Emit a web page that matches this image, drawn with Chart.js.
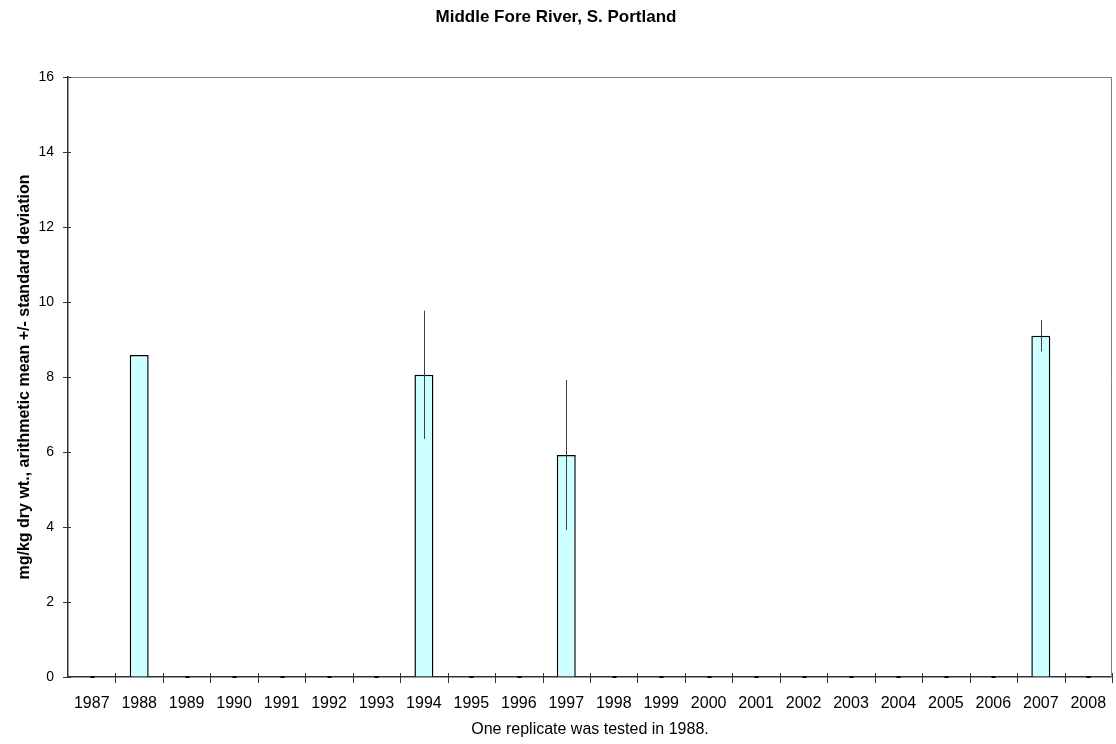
<!DOCTYPE html>
<html>
<head>
<meta charset="utf-8">
<script src="https://cdn.jsdelivr.net/npm/chart.js@4/dist/chart.umd.min.js"></script>
<style>
  html, body { margin: 0; padding: 0; background: #fff; }
  #wrap { width: 1116px; height: 744px; }
</style>
</head>
<body>
<div id="wrap"><canvas id="reportChart" width="1116" height="744"></canvas></div>
<script>
const years = ['1987', '1988', '1989', '1990', '1991', '1992', '1993', '1994', '1995', '1996', '1997',
  '1998', '1999', '2000', '2001', '2002', '2003', '2004', '2005', '2006', '2007', '2008'];
const means = [0, 8.59, 0, 0, 0, 0, 0, 8.06, 0, 0, 5.92, 0, 0, 0, 0, 0, 0, 0, 0, 0, 9.1, 0];
const stdDevs = [0, 0, 0, 0, 0, 0, 0, 1.71, 0, 0, 2.0, 0, 0, 0, 0, 0, 0, 0, 0, 0, 0.42, 0];
const yTicks = [0, 2, 4, 6, 8, 10, 12, 14, 16];

const fontFamily = '"Liberation Sans", Arial, sans-serif';

// error bars, zero markers, cross tick marks and the grey frame on top/right
const extras = {
  id: 'extras',
  afterDatasetsDraw(chart) {
    const ctx = chart.ctx;
    const x = chart.scales.x;
    const y = chart.scales.y;
    const area = chart.chartArea;
    ctx.save();
    ctx.strokeStyle = '#808080';
    ctx.lineWidth = 1;
    ctx.beginPath();
    ctx.moveTo(area.left, area.top + 0.5);
    ctx.lineTo(area.right - 0.5, area.top + 0.5);
    ctx.lineTo(area.right - 0.5, area.bottom);
    ctx.stroke();

    // tick marks crossing the axes
    ctx.strokeStyle = '#333';
    ctx.lineWidth = 1;
    ctx.beginPath();
    const step = x.width / years.length;
    for (let i = 1; i <= years.length; i++) {
      const tx = Math.round(x.getPixelForValue(i) - step / 2) + 0.5;
      ctx.moveTo(tx, area.bottom - 4);
      ctx.lineTo(tx, area.bottom + 6);
    }
    yTicks.forEach(v => {
      const ty = Math.round(y.getPixelForValue(v)) + 0.5;
      ctx.moveTo(area.left - 5, ty);
      ctx.lineTo(area.left + 3, ty);
    });
    ctx.stroke();

    means.forEach((m, i) => {
      const cx = Math.round(x.getPixelForValue(i)) + 0.5;
      if (m === 0) {
        ctx.fillStyle = '#000';
        ctx.fillRect(cx - 2, y.getPixelForValue(0) - 1, 4, 2);
        return;
      }
      const sd = stdDevs[i];
      if (sd > 0) {
        ctx.strokeStyle = '#404040';
        ctx.lineWidth = 1;
        ctx.beginPath();
        ctx.moveTo(cx, y.getPixelForValue(m + sd));
        ctx.lineTo(cx, y.getPixelForValue(m - sd));
        ctx.stroke();
      }
    });
    ctx.restore();
  }
};

const chartCanvas = document.getElementById('reportChart').getContext('2d');

let chart = new Chart(chartCanvas, {
  type: 'bar',
  data: {
    labels: years,
    datasets: [{
      data: means,
      backgroundColor: '#CCFFFF',
      borderColor: '#000000',
      borderWidth: 1.5,
      borderSkipped: 'bottom',
      categoryPercentage: 1,
      barPercentage: 0.4
    }]
  },
  options: {
    responsive: false,
    animation: false,
    layout: { padding: { left: 0, right: 4, top: 0, bottom: 0 } },
    scales: {
      x: {
        grid: { offset: true, drawOnChartArea: false, drawTicks: true, tickLength: 17, color: 'rgba(0,0,0,0)' },
        border: { color: '#333', width: 1.5 },
        ticks: { color: '#000', font: { family: fontFamily, size: 16 }, maxRotation: 0, autoSkip: false, padding: 0 },
        title: {
          display: true,
          text: 'One replicate was tested in 1988.',
          color: '#000',
          font: { family: fontFamily, size: 16 },
          padding: { top: 4, bottom: 5 }
        },
        afterFit(scale) { scale.height = 67; }
      },
      y: {
        min: 0,
        max: 16,
        afterBuildTicks(scale) { scale.ticks = yTicks.map(v => ({ value: v })); },
        grid: { drawOnChartArea: false, drawTicks: false },
        border: { color: '#333', width: 1.5 },
        ticks: { color: '#000', font: { family: fontFamily, size: 14 }, padding: 14 },
        title: {
          display: true,
          text: 'mg/kg dry wt., arithmetic mean +/- standard deviation',
          color: '#000',
          font: { family: fontFamily, size: 16, weight: 'bold' },
          padding: { top: 15, bottom: 0 }
        },
        afterFit(scale) { scale.width = 68; }
      }
    },
    plugins: {
      legend: { display: false },
      tooltip: { enabled: false },
      title: {
        display: true,
        text: 'Middle Fore River, S. Portland',
        color: '#000',
        font: { family: fontFamily, size: 17, weight: 'bold' },
        padding: { top: 7, bottom: 49.6 }
      }
    }
  },
  plugins: [extras]
});
</script>
</body>
</html>
